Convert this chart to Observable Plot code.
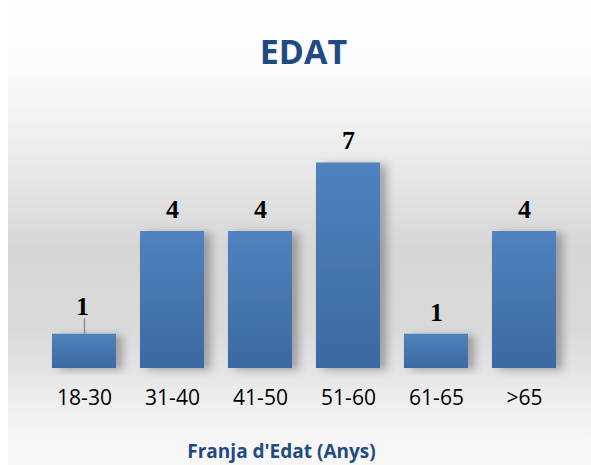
<!DOCTYPE html>
<html><head><meta charset="utf-8">
<script src="https://cdn.jsdelivr.net/npm/d3@7"></script>
<script src="https://cdn.jsdelivr.net/npm/@observablehq/plot@0.6"></script>
<style>
html,body{margin:0;padding:0;background:#fff;}
#wrap{position:relative;width:591px;height:465px;overflow:hidden;}
#bg{position:absolute;left:8px;top:0;width:583px;height:465px;
 background:linear-gradient(to bottom,#ffffff 0px,#fbfbfb 70px,#ececec 150px,#d6d6d6 250px,#dadada 330px,#e3e3e3 368px,#eeeeee 400px,#f6f6f6 440px,#f8f8f8 465px);}
#title{position:absolute;left:8px;width:591px;top:34px;line-height:34px;text-align:center;
 font-family:"Open Sans",sans-serif;font-weight:bold;font-size:34px;color:#1f4a82;}
#xtitle{position:absolute;left:0;width:563px;top:442px;line-height:19px;text-align:center;
 font-family:"Open Sans",sans-serif;font-weight:bold;font-size:19px;color:#1f4a82;}
#chart{position:absolute;left:0;top:0;}
</style></head>
<body>
<div id="wrap">
  <div id="bg"></div>
  <div id="chart"></div>
  <div id="title">EDAT</div>
  <div id="xtitle">Franja d'Edat (Anys)</div>
</div>
<script>
// Age bands (x categories)
const categories = ["18-30", "31-40", "41-50", "51-60", "61-65", ">65"];
// Bar heights as drawn in the picture
const values = [1, 4, 4, 6, 1, 4];
// Data labels as printed above the bars
const labels = ["1", "4", "4", "7", "1", "4"];

const idx = d3.range(categories.length);

const plot = Plot.plot({
  width: 591,
  height: 420,
  marginLeft: 38,
  marginRight: 22,
  marginTop: 94,
  marginBottom: 52,
  style: {background: "transparent", overflow: "visible"},
  x: {domain: categories, paddingInner: 0.277, paddingOuter: 0.1385, label: null},
  y: {domain: [0, 8], axis: null},
  marks: [
    Plot.barY(idx, {x: i => categories[i], y: i => values[i], fill: "url(#barGrad)"}),
    Plot.ruleX([0], {x: i => categories[i], y1: i => values[i], y2: i => values[i] + 0.45, stroke: "#8c8c8c", strokeWidth: 1.5}),
    Plot.text(idx.filter(i => i !== 0), {x: i => categories[i], y: i => values[i], text: i => labels[i],
      dy: -22, fill: "#000", fontSize: 26, fontWeight: "bold", fontFamily: "Liberation Serif, DejaVu Serif, serif", lineAnchor: "middle"}),
    Plot.text([0], {x: i => categories[i], y: i => values[i], text: i => labels[i],
      dy: -28, dx: -2, fill: "#000", fontSize: 26, fontWeight: "bold", fontFamily: "Liberation Serif, DejaVu Serif, serif", lineAnchor: "middle"}),
    Plot.axisX({tickSize: 0, tickPadding: 22, fontSize: 21, fontFamily: "Open Sans, sans-serif", color: "#000", label: null})
  ]
});

// gradient + shadow definitions
const svg = d3.select(plot);
const defs = svg.insert("defs", ":first-child");
const g = defs.append("linearGradient").attr("id", "barGrad").attr("x1", 0).attr("y1", 0).attr("x2", 0).attr("y2", 1);
g.append("stop").attr("offset", "0%").attr("stop-color", "#5082be");
g.append("stop").attr("offset", "100%").attr("stop-color", "#3c69a2");
const f = defs.append("filter").attr("id", "shadow").attr("x", "-20%").attr("y", "-20%").attr("width", "160%").attr("height", "140%");
f.append("feDropShadow").attr("dx", 7).attr("dy", 2).attr("stdDeviation", 4).attr("flood-color", "#000").attr("flood-opacity", 0.28);
svg.selectAll("g[aria-label='bar'] rect").attr("filter", "url(#shadow)");
svg.selectAll("g[aria-label='x-axis tick label'] text").attr("fill", "#000");

document.getElementById("chart").appendChild(plot);
</script>
</body></html>
